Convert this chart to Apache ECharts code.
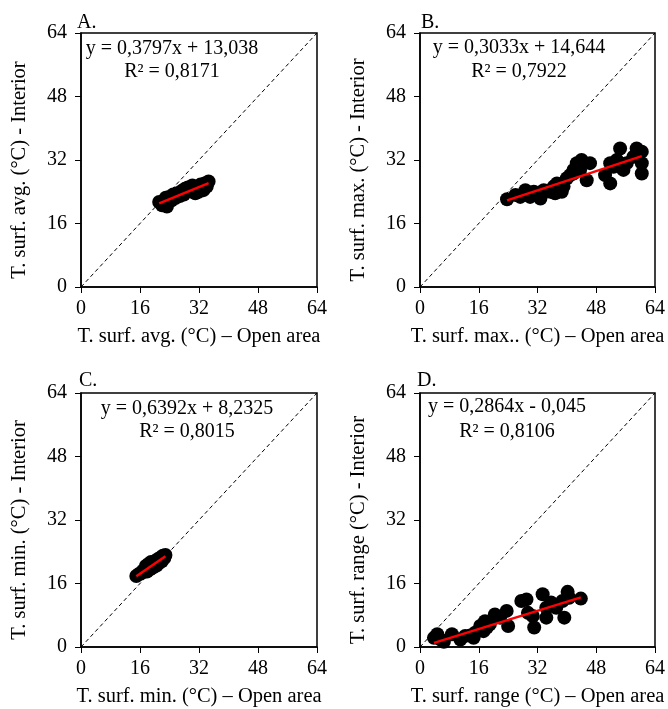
<!DOCTYPE html>
<html>
<head>
<meta charset="utf-8">
<script src="https://cdn.jsdelivr.net/npm/echarts@6/dist/echarts.min.js"></script>
<style>
  html, body { margin: 0; padding: 0; background: #fff; }
  #chart { width: 668px; height: 709px; }
</style>
</head>
<body>
<div id="chart"></div>
<script>
// ticks shared by every panel
const axisTicks = [0, 16, 32, 48, 64]

const panelLetters = ['A.', 'B.', 'C.', 'D.']
const xNames = [
  'T. surf. avg. (°C) – Open area',
  'T. surf. max.. (°C) – Open area',
  'T. surf. min. (°C) – Open area',
  'T. surf. range (°C) – Open area'
]
const yNames = [
  'T. surf. avg. (°C) - Interior',
  'T. surf. max. (°C) - Interior',
  'T. surf. min. (°C) - Interior',
  'T. surf. range (°C) - Interior'
]
const equations = [
  'y = 0,3797x + 13,038',
  'y = 0,3033x + 14,644',
  'y = 0,6392x + 8,2325',
  'y = 0,2864x - 0,045'
]
const r2Labels = ['R² = 0,8171', 'R² = 0,7922', 'R² = 0,8015', 'R² = 0,8106']
const slopes = [0.3797, 0.3033, 0.6392, 0.2864]
const intercepts = [13.038, 14.644, 8.2325, -0.045]

// A. average
const avgOpen = [21.2, 22.0, 22.8, 23.3, 23.9, 24.5, 25.0, 25.6, 26.1, 26.8, 27.3, 27.9, 28.4, 29.0, 29.6, 30.2, 30.8, 31.3, 31.9, 32.4, 33.0, 33.5, 34.1, 34.6, 23.0, 25.3, 28.0, 31.0, 33.2]
const avgInt = [21.4, 20.6, 21.9, 20.3, 22.7, 21.8, 23.3, 22.4, 23.6, 22.9, 24.2, 23.3, 24.8, 25.1, 24.1, 25.6, 24.5, 25.2, 24.0, 25.8, 25.0, 26.1, 25.3, 26.6, 22.5, 23.0, 24.6, 23.6, 24.4]

// B. maximum
const maxOpen = [23.7, 26.0, 28.7, 31.0, 32.8, 33.7, 36.4, 37.3, 38.6, 40.0, 41.8, 42.7, 44.0, 45.4, 46.3, 41.8, 39.1, 50.4, 51.8, 51.8, 53.6, 54.5, 55.4, 56.3, 58.1, 59.0, 60.4, 60.4, 60.4, 52.7, 54.5, 27.3, 30.0, 31.9, 35.5, 36.8, 40.9, 43.6]
const maxInt = [22.1, 23.2, 24.4, 24.0, 22.3, 24.4, 25.3, 26.1, 24.0, 27.4, 29.5, 31.2, 32.0, 26.9, 31.2, 28.6, 25.3, 28.2, 26.1, 31.2, 32.0, 34.9, 29.5, 31.2, 32.8, 34.9, 34.1, 31.2, 28.6, 30.3, 31.2, 22.7, 22.7, 23.6, 24.0, 23.6, 28.2, 29.5]

// C. minimum
const minOpen = [15.0, 15.6, 16.2, 16.8, 17.3, 17.6, 17.9, 18.3, 18.7, 19.0, 19.4, 19.8, 20.1, 20.5, 20.8, 21.2, 21.5, 21.9, 22.2, 22.6, 22.9, 18.0, 19.5, 21.0]
const minInt = [17.9, 18.3, 18.6, 19.2, 19.0, 20.4, 19.0, 20.9, 19.6, 21.4, 20.3, 20.8, 21.6, 20.5, 22.1, 21.4, 22.5, 21.6, 23.0, 22.4, 23.2, 19.4, 20.0, 21.0]

// D. range
const rangeOpen = [3.8, 4.7, 5.6, 6.5, 8.7, 11.0, 12.3, 14.6, 15.0, 16.4, 17.3, 17.7, 19.0, 20.4, 21.8, 23.6, 24.0, 27.6, 29.0, 29.4, 30.7, 31.1, 33.4, 34.4, 34.4, 35.7, 37.1, 38.8, 39.3, 40.2, 40.6, 43.8, 18.2, 13.7]
const rangeInt = [2.3, 3.2, 1.9, 1.3, 3.2, 1.9, 2.8, 2.3, 3.6, 5.3, 4.0, 6.5, 5.7, 8.2, 7.4, 9.1, 5.3, 11.6, 12.0, 8.6, 7.8, 4.9, 13.3, 9.9, 7.4, 11.2, 9.9, 11.6, 7.4, 13.9, 12.4, 12.2, 4.9, 2.9]

const xData = [avgOpen, maxOpen, minOpen, rangeOpen]
const yData = [avgInt, maxInt, minInt, rangeInt]

const serif = "'Liberation Serif', 'Times New Roman', serif"
const grids = [
  { left: 81, top: 33, width: 236, height: 254 },
  { left: 420, top: 33, width: 236, height: 254 },
  { left: 81, top: 393, width: 236, height: 254 },
  { left: 420, top: 393, width: 236, height: 254 }
]
// equation text centres
const eqPos = [[172, 49, 72], [519, 48, 72], [187, 409, 432], [507, 407, 432]]
const letterPos = [[77, 24], [421, 24], [79, 382], [417, 382]]

let xAxes = [], yAxes = [], series = [], graphics = []

const axisCommon = {
  type: 'value',
  min: axisTicks[0],
  max: axisTicks[axisTicks.length - 1],
  interval: axisTicks[1] - axisTicks[0],
  splitLine: { show: false },
  axisLine: { lineStyle: { color: '#000', width: 1.5 } },
  axisTick: { show: true, length: 6, inside: false, lineStyle: { color: '#000', width: 1 } },
  nameLocation: 'middle'
}

grids.forEach((g, i) => {
  xAxes.push(Object.assign({}, axisCommon, {
    gridIndex: i,
    name: xNames[i],
    nameGap: 39,
    nameTextStyle: { color: '#000', fontSize: 20.5, fontFamily: serif },
    axisLabel: { color: '#000', fontSize: 20, fontFamily: serif, margin: 12, showMinLabel: true, showMaxLabel: true }
  }))
  yAxes.push(Object.assign({}, axisCommon, {
    gridIndex: i,
    name: yNames[i],
    nameGap: 51,
    nameTextStyle: { color: '#000', fontSize: 20.5, fontFamily: serif, padding: [0, 20, 0, 0] },
    axisLabel: { color: '#000', fontSize: 20, fontFamily: serif, margin: 14 }
  }))

  // 1:1 line
  series.push({
    type: 'line', xAxisIndex: i, yAxisIndex: i,
    data: [[axisTicks[0], axisTicks[0]], [axisTicks[4], axisTicks[4]]],
    showSymbol: false, symbol: 'none', silent: true, z: 1,
    lineStyle: { color: '#000', width: 1, type: [4, 3] }
  })
  // points
  series.push({
    type: 'scatter', xAxisIndex: i, yAxisIndex: i,
    data: xData[i].map((v, k) => [v, yData[i][k]]),
    symbolSize: 14, z: 2,
    itemStyle: { color: '#000', opacity: 1 }
  })
  // trend line
  const lo = Math.min(...xData[i]), hi = Math.max(...xData[i])
  series.push({
    type: 'line', xAxisIndex: i, yAxisIndex: i,
    data: [[lo, slopes[i] * lo + intercepts[i]], [hi, slopes[i] * hi + intercepts[i]]],
    symbol: 'none', silent: true, z: 3,
    lineStyle: { color: '#ff0000', width: 2.5 }
  })

  const textStyle = { fill: '#000', fontSize: 20, fontFamily: serif }
  graphics.push({
    type: 'text', left: letterPos[i][0], top: letterPos[i][1] - 11,
    style: Object.assign({ text: panelLetters[i] }, textStyle)
  })
  graphics.push({
    type: 'text', x: eqPos[i][0], y: eqPos[i][1],
    style: Object.assign({ text: equations[i], align: 'center', verticalAlign: 'middle' }, textStyle)
  })
  graphics.push({
    type: 'text', x: eqPos[i][0], y: eqPos[i][2],
    style: Object.assign({ text: r2Labels[i], align: 'center', verticalAlign: 'middle' }, textStyle)
  })
})

let myChart = echarts.init(document.getElementById('chart'))
let option = {
  animation: false,
  backgroundColor: '#fff',
  grid: grids.map(g => Object.assign({ show: true, borderColor: '#000', borderWidth: 1.5, backgroundColor: 'transparent' }, g)),
  xAxis: xAxes,
  yAxis: yAxes,
  series: series,
  graphic: graphics
}
myChart.setOption(option)
</script>
</body>
</html>
